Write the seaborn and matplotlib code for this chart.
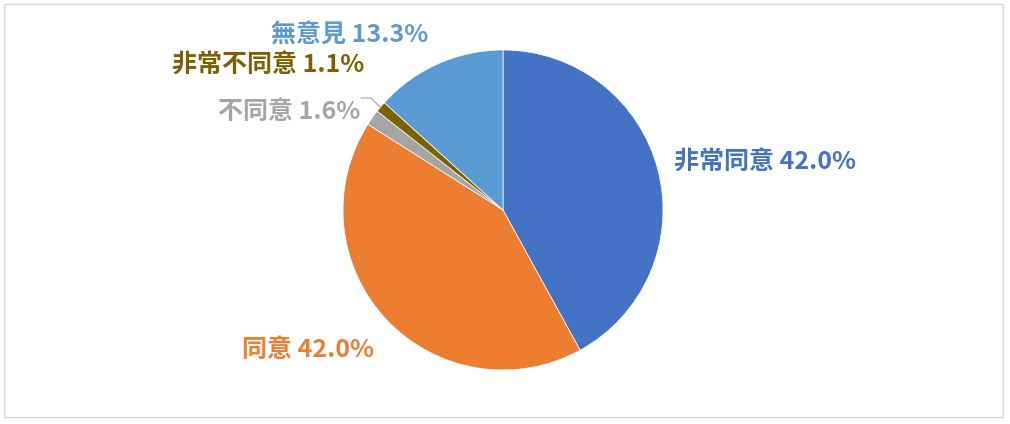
import matplotlib
matplotlib.use("Agg")
from matplotlib import pyplot as plt
from matplotlib.patches import Rectangle
import seaborn as sns

sns.set_theme(style="white")
plt.rcParams['font.family'] = ['Noto Sans CJK TC', 'DejaVu Sans']

categories = ["非常同意", "同意", "不同意", "非常不同意", "無意見"]
values = [42.0, 42.0, 1.6, 1.1, 13.3]
colors = ["#4472C4", "#ED7D31", "#A5A5A5", "#7F6000", "#5B9BD5"]
label_colors = ["#4472C4", "#ED7D31", "#A5A5A5", "#7F6000", "#5B9BD5"]

W, H = 1010, 424
fig = plt.figure(figsize=(W / 100, H / 100), dpi=100)
fig.patches.append(Rectangle((4 / W, 7 / H), 999 / W, 413 / H, transform=fig.transFigure,
                             fill=False, edgecolor="#D9D9D9", linewidth=1))

cx, cy, r = 503, 210, 160
ax = fig.add_axes([(cx - r) / W, (H - cy - r) / H, 2 * r / W, 2 * r / H])
ax.pie(values, colors=colors, startangle=90, counterclock=False, radius=1,
       wedgeprops=dict(edgecolor="white", linewidth=0.5))
ax.set_xlim(-1, 1)
ax.set_ylim(-1, 1)
ax.set_aspect("equal")
ax.axis("off")

# label positions in pixels (center of text)
label_pos = [(765, 163), (308, 350), (289, 112), (268, 66), (350, 35)]
for cat, v, c, (px, py) in zip(categories, values, label_colors, label_pos):
    fig.text(px / W, 1 - py / H, f"{cat} {v:.1f}%", color=c, fontsize=18,
             fontweight="bold", ha="center", va="center")

# leader line for 不同意
fig.add_artist(plt.Line2D([361 / W, 371 / W, 381 / W],
                          [1 - 98 / H, 1 - 98 / H, 1 - 108 / H],
                          color="#A5A5A5", linewidth=0.8))

fig.savefig("out.png", dpi=100)
